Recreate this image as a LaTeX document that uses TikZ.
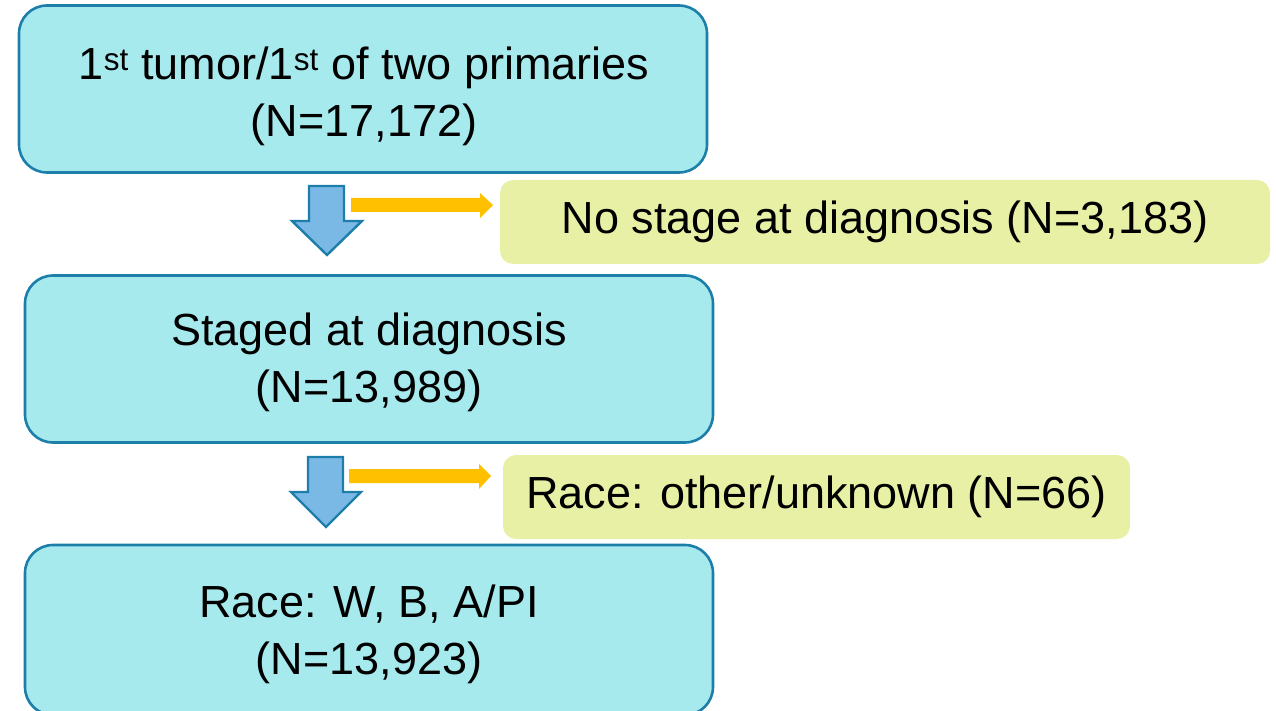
\documentclass[tikz,border=0pt]{standalone}
\usepackage{fontspec}
\setmainfont{Liberation Sans}
\definecolor{boxfill}{HTML}{A7EAEE}
\definecolor{boxline}{HTML}{1D7FA9}
\definecolor{notefill}{HTML}{E8F0A5}
\definecolor{arrfill}{HTML}{7AB8E6}
\definecolor{gold}{HTML}{FFC000}
\begin{document}
\begin{tikzpicture}[x=1pt,y=-1pt,
  mainbox/.style={draw=boxline,line width=2.6pt,fill=boxfill,rounded corners=28pt,
    minimum width=688pt,minimum height=167pt,inner sep=0pt},
  boxtext/.style={align=center,inner sep=0pt,font=\fontsize{45}{57}\selectfont},
  notebox/.style={fill=notefill,rounded corners=13pt,minimum height=84pt,inner sep=0pt,
    font=\fontsize{45}{54}\selectfont},
  downarr/.style={draw=boxline,line width=2.4pt,fill=arrfill,line join=miter},
  sidearr/.style={fill=gold}]
\useasboundingbox (0,0) rectangle (1276,711);
\node[mainbox] (b1) at (363,89) {};
\node[boxtext] (t1) at (364,96) {1\textsuperscript{st} tumor/1\textsuperscript{st} of two primaries\\(N=17,172)};
\node[mainbox] (b2) at (369,359) {};
\node[boxtext] (t2) at (369,362) {Staged at diagnosis\\(N=13,989)};
\node[mainbox,minimum height=170pt] (b3) at (369,630) {};
\node[boxtext] (t3) at (369,634) {Race: W, B, A/PI\\(N=13,923)};
\node[notebox,minimum width=770pt] (n1) at (885,222) {No stage at diagnosis (N=3,183)};
\node[notebox,minimum width=627pt] (n2) at (816.5,497) {Race: other/unknown (N=66)};
% down arrows
\draw[downarr] (309,186) -- (344,186) -- (344,221) -- (362,221) -- (327,255) -- (292,221) -- (309,221) -- cycle;
\draw[downarr] (308,457) -- (343,457) -- (343,492) -- (361,492) -- (326,527) -- (291,492) -- (308,492) -- cycle;
% side arrows
\fill[sidearr] (351,198) -- (480,198) -- (480,193) -- (493,205) -- (480,218) -- (480,212) -- (351,212) -- cycle;
\fill[sidearr] (349,469) -- (479,469) -- (479,464) -- (491,476) -- (479,489) -- (479,483) -- (349,483) -- cycle;
\end{tikzpicture}
\end{document}
